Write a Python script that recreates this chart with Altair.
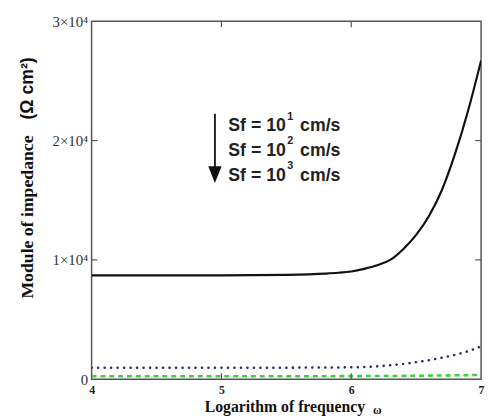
import altair as alt
import pandas as pd

# ---- data ----
freq_black = [4.0, 4.5, 5.0, 5.5, 5.8, 5.9, 6.0, 6.1, 6.2, 6.3, 6.4, 6.5, 6.6, 6.7, 6.8, 6.9, 7.0]
imp_black = [8700, 8700, 8700, 8750, 8850, 8920, 9030, 9250, 9550, 10000, 10900, 12100, 13700, 15900, 18900, 22500, 26700]

freq_blue = [4.0, 4.5, 5.0, 5.5, 6.0, 6.2, 6.4, 6.6, 6.8, 6.9, 7.0]
imp_blue = [960, 960, 960, 970, 1000, 1080, 1280, 1600, 2050, 2350, 2750]

freq_green = [4.0, 5.0, 6.0, 6.5, 7.0]
imp_green = [250, 250, 260, 290, 360]

x_ticks = [4, 5, 6, 7]
y_ticks = [0, 10000, 20000, 30000]
inner_x_ticks = [5, 6]
inner_y_ticks = [10000, 20000]

legend_labels = ["Sf = 10", "Sf = 10", "Sf = 10"]
legend_sups = ["1", "2", "3"]
legend_units = ["cm/s", "cm/s", "cm/s"]
legend_y = [20770, 18710, 16650]

W, H = 396, 364
xs = alt.Scale(domain=[4, 7], nice=False, zero=False)
ys = alt.Scale(domain=[0, 30000], nice=False)

def line(xv, yv, color, width, dash=None, cap="butt"):
    df = pd.DataFrame({"x": xv, "y": yv})
    kw = dict(color=color, strokeWidth=width, strokeCap=cap, interpolate="monotone", clip=True)
    if dash:
        kw["strokeDash"] = dash
    return alt.Chart(df).mark_line(**kw).encode(
        x=alt.X("x:Q", scale=xs), y=alt.Y("y:Q", scale=ys))

base_axes = alt.Chart(pd.DataFrame({"x": [4.0], "y": [0.0]})).mark_point(opacity=0).encode(
    x=alt.X("x:Q", scale=xs, title=None,
            axis=alt.Axis(values=x_ticks, format="d", ticks=False, domain=False, grid=False,
                          labelFont="Liberation Serif", labelFontWeight="bold", labelFontSize=12,
                          labelColor="#222", labelPadding=6, labelFlush=False)),
    y=alt.Y("y:Q", scale=ys, title=None,
            axis=alt.Axis(values=y_ticks, ticks=False, domain=False, grid=False,
                          labelExpr="datum.value == 0 ? '0' : format(datum.value/10000, 'd') + '×10⁴'",
                          labelFont="Liberation Serif", labelFontSize=15, labelColor="#333",
                          labelPadding=4)),
)

black = line(freq_black, imp_black, "#111111", 2.2)
blue = line(freq_blue, imp_blue, "#2c2c70", 2.6, dash=[0.1, 6.5], cap="round")
green = line(freq_green, imp_green, "#3fcf3f", 2.6, dash=[5, 4])

tx = pd.DataFrame({"x": inner_x_ticks})
ty = pd.DataFrame({"y": inner_y_ticks})
tick_b = alt.Chart(tx).mark_rule(color="#555", strokeWidth=1.2).encode(
    x=alt.X("x:Q", scale=xs), y=alt.value(H), y2=alt.value(H - 6))
tick_t = alt.Chart(tx).mark_rule(color="#555", strokeWidth=1.2).encode(
    x=alt.X("x:Q", scale=xs), y=alt.value(0), y2=alt.value(6))
tick_l = alt.Chart(ty).mark_rule(color="#555", strokeWidth=1.2).encode(
    y=alt.Y("y:Q", scale=ys), x=alt.value(0), x2=alt.value(6))
tick_r = alt.Chart(ty).mark_rule(color="#555", strokeWidth=1.2).encode(
    y=alt.Y("y:Q", scale=ys), x=alt.value(W), x2=alt.value(W - 6))

# arrow
arrow_df = pd.DataFrame({"x": [4.95], "y": [22250], "y2": [17700]})
arrow_line = alt.Chart(arrow_df).mark_rule(color="#111", strokeWidth=1.8).encode(
    x=alt.X("x:Q", scale=xs), y=alt.Y("y:Q", scale=ys), y2="y2:Q")
head_df = pd.DataFrame({"x": [4.95], "y": [17150]})
arrow_head = alt.Chart(head_df).mark_point(
    shape="M-0.8,-1L0.8,-1L0,1Z", filled=True, color="#111", size=289, opacity=1).encode(
    x=alt.X("x:Q", scale=xs), y=alt.Y("y:Q", scale=ys))

leg = pd.DataFrame({"t": legend_labels, "s": legend_sups, "u": legend_units, "y": legend_y})
leg_main = alt.Chart(leg).mark_text(font="Liberation Sans", fontWeight="bold", fontSize=18,
                                    align="left", baseline="alphabetic", color="#222").encode(
    x=alt.value(139), y=alt.Y("y:Q", scale=ys), text="t:N")
leg_sup = alt.Chart(leg).mark_text(font="Liberation Sans", fontWeight="bold", fontSize=11,
                                   align="left", baseline="alphabetic", color="#222", dy=-12).encode(
    x=alt.value(199), y=alt.Y("y:Q", scale=ys), text="s:N")
leg_unit = alt.Chart(leg).mark_text(font="Liberation Sans", fontWeight="bold", fontSize=18,
                                    align="left", baseline="alphabetic", color="#222").encode(
    x=alt.value(212), y=alt.Y("y:Q", scale=ys), text="u:N")

# axis titles as text
ytitle1 = alt.Chart(pd.DataFrame({"t": ["Module of impedance"]})).mark_text(
    font="Liberation Serif", fontWeight="bold", fontSize=18, angle=270, align="left",
    baseline="middle", color="#111").encode(x=alt.value(-65), y=alt.value(282), text="t:N")
ytitle2 = alt.Chart(pd.DataFrame({"t": ["(Ω cm²)"]})).mark_text(
    font="Liberation Sans", fontWeight="bold", fontSize=18, angle=270, align="left",
    baseline="middle", color="#111").encode(x=alt.value(-65), y=alt.value(100), text="t:N")
xtitle1 = alt.Chart(pd.DataFrame({"t": ["Logarithm of frequency"]})).mark_text(
    font="Liberation Serif", fontWeight="bold", fontSize=16, align="left",
    baseline="alphabetic", color="#111").encode(x=alt.value(115), y=alt.value(H + 33), text="t:N")
xtitle2 = alt.Chart(pd.DataFrame({"t": ["ω"]})).mark_text(
    font="Liberation Serif", fontWeight="bold", fontSize=12, align="left",
    baseline="alphabetic", color="#111").encode(x=alt.value(286), y=alt.value(H + 35), text="t:N")

chart = alt.layer(
    base_axes, green, blue, black,
    tick_b, tick_t, tick_l, tick_r,
    arrow_line, arrow_head, leg_main, leg_sup, leg_unit,
    ytitle1, ytitle2, xtitle1, xtitle2,
).properties(
    width=W, height=H,
    autosize=alt.AutoSizeParams(type="none"),
    padding={"left": 85, "top": 10, "right": 4, "bottom": 38},
    background="white",
).configure_view(stroke="#555", strokeWidth=1.5)

chart.save("out.html", embed_options={"renderer": "svg", "actions": False})
